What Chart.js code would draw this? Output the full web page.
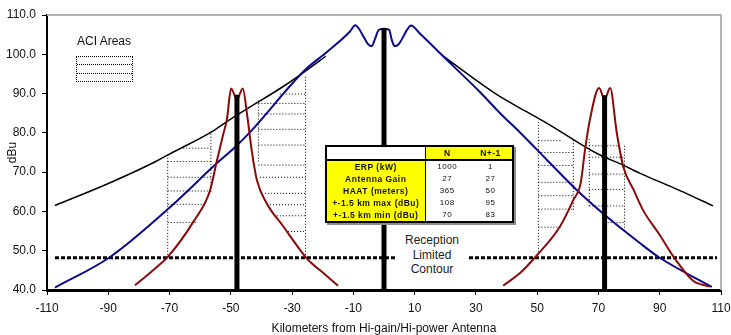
<!DOCTYPE html>
<html>
<head>
<meta charset="utf-8">
<script src="https://cdn.jsdelivr.net/npm/chart.js@4.4.1/dist/chart.umd.min.js"></script>
<style>
  body { margin: 0; background: #fff; }
  #wrap { position: relative; width: 731px; height: 335px; font-family: "Liberation Sans", Arial, sans-serif; color: #111; }
  #fieldChart { position: absolute; left: 0; top: 0; }
  #aciLabel { position: absolute; left: 77px; top: 34px; font-size: 12px; line-height: 15px; }
  #aciKey { position: absolute; left: 76px; top: 56px; width: 55px; height: 24px; border: 1px dotted #000; }
  #aciKey div { position: absolute; left: 0; width: 55px; border-top: 1px dotted #000; }
  #siteTable { position: absolute; left: 325px; top: 145px; width: 187px; border-collapse: collapse; table-layout: fixed;
    background: #fff; border: 2px solid #000; box-shadow: 2px 2px 0 #8c8c8c; }
  #siteTable td { padding: 0; text-align: center; height: 12px; line-height: 12px; font-size: 8px; letter-spacing: 0.5px; }
  #siteTable td.label { background: #ffff00; font-weight: bold; font-size: 8.5px; letter-spacing: 0.5px; border-right: 1px solid #000; white-space: nowrap; }
  #siteTable tr.head td { height: 12px; background: #ffff00; font-weight: bold; font-size: 8.5px; border-bottom: 2px solid #000; }
  #siteTable tr.head td.blank { background: #fff; border-right: 1px solid #000; }
  #contourLabel { position: absolute; left: 397px; top: 233px; width: 70px; height: 44px; background: #fff;
    text-align: center; font-size: 12px; line-height: 14.5px; color: #222; }
</style>
</head>
<body>
<div id="wrap">
  <canvas id="fieldChart" width="731" height="335"></canvas>
  <div id="aciLabel">ACI Areas</div>
  <div id="aciKey"><div style="top:6.5px"></div><div style="top:16px"></div></div>
  <table id="siteTable"></table>
  <div id="contourLabel">Reception<br>Limited<br>Contour</div>
</div>
<script>
const xTicks = [-110, -90, -70, -50, -30, -10, 10, 30, 50, 70, 90, 110];
const yTicks = [40, 50, 60, 70, 80, 90, 100, 110];

// hi-power station (blue), with the pattern dip near the mast
const mainKm = [-107.4, -89.4, -70.5, -54.5, -49, -43.7, -25.8, -18.6, -11.1, -9.4, -8, -6.7, -5.1, -4, -2.9, -1.9, -1, 0,
  1, 1.7, 2.5, 3.4, 4.7, 6.3, 7.5, 8.8, 11.7, 18.9, 31.3, 37.9, 44.4, 53.2, 62.3, 71.6, 83.6, 90, 107];
const mainDbu = [40.6, 48.4, 60.6, 72.3, 76.1, 80.2, 96, 100.6, 105.8, 107.4, 106.3, 104.5, 102.5, 102.1, 104, 106, 106.4, 106.5,
  106.4, 106.2, 103.8, 102.1, 102.5, 104.5, 106.2, 107.3, 105.3, 99.8, 90.4, 85, 80.1, 73.1, 65.9, 59.4, 51.9, 48.2, 40.8];

// reference curve (thin black)
const refWestKm = [-107.4, -89.4, -74.5, -70.5, -56, -51.4, -47, -43.7, -32.9, -25.5, -19];
const refWestDbu = [61.5, 67.3, 72.7, 74.4, 80.4, 82.8, 85, 86.6, 91.8, 95.8, 99.5];
const refEastKm = [18.9, 31.3, 37.9, 44.4, 53.1, 69.4, 78, 83.6, 96.6, 107.4];
const refEastDbu = [99.8, 92.7, 89.2, 86.3, 82.5, 74.8, 71.8, 69.7, 65.3, 61.4];

// low-power stations (dark red)
const lowWestKm = [-81.3, -74.7, -70.5, -62.2, -56.8, -54.6, -52.4, -51.3, -49.9, -48, -46.1, -44.6, -43.2, -41.5,
  -38.3, -32.8, -27.4, -24.8, -19.8, -15];
const lowWestDbu = [41.2, 45.5, 48.5, 57.4, 65.3, 72.7, 79.9, 83.3, 91.3, 88.5, 91.3, 84.1, 75.6, 68, 62.1, 56.1, 50.2,
  47.7, 44.3, 41.1];
const lowEastKm = [38.9, 44.4, 49.4, 57.4, 61.8, 64.2, 65.6, 67.2, 70.2, 72, 73.8, 76, 78.1, 81.4, 84.5, 90, 95, 101, 106.4];
const lowEastDbu = [41.1, 44.3, 48.4, 56.1, 62.9, 67.2, 75.6, 83.3, 91.4, 88.5, 91.4, 79.9, 71.4, 65.6, 60.4, 54, 47.9, 42.3, 40.9];

// antenna masts
const mastKm = [-48, 0, 72];
const mastTopDbu = [89.7, 106.7, 89.6];

// reception limited contour
const contourKm = [-107.4, 108.7];
const contourDbu = 48.2;

// ACI hatch: rows [dBu, fromKm, toKm], cols [km, fromDbu, toDbu]
const aciRows = [
  [76.1, -66.5, -56.5], [72.7, -70.6, -56.5], [68.7, -70.6, -56.5], [65.2, -70.6, -56.5], [61.8, -70.6, -58.4], [57.2, -70.6, -61.4],
  [89.9, -34, -25.6], [87.5, -41, -25.6], [84.8, -41, -25.6], [80.9, -41, -25.6], [76.9, -41, -25.6], [71.8, -41, -25.6],
  [68.7, -40.5, -25.6], [64.6, -38.8, -25.6], [61.7, -37.2, -25.6], [58.9, -35, -25.6], [54.9, -31.3, -25.6],
  [78, 50.4, 58], [75, 50.4, 61.8], [71.7, 50.4, 61.8], [67.4, 50.4, 61.8], [64, 50.4, 61.8], [60.6, 50.4, 61.8], [56, 50.4, 58],
  [76.7, 67, 77], [73.8, 67, 78.5], [69.5, 67, 78.5], [65.6, 67, 78.5], [61.4, 67, 78.5], [57.2, 73, 78.5]
];
const aciCols = [
  [-70.6, 48.2, 74.4], [-56.5, 65, 80.3],
  [-41, 72.7, 88.4], [-25.6, 48.2, 94.3],
  [50.4, 48.2, 83.3], [61.8, 60.4, 78.4],
  [67, 61.4, 78.4], [78.5, 55.1, 76.9]
];

const tableHead = ["N", "N+-1"];
const tableLabels = ["ERP (kW)", "Antenna Gain", "HAAT (meters)", "+-1.5 km max (dBu)", "+-1.5 km min (dBu)"];
const tableN = [1000, 27, 365, 108, 70];
const tableN1 = [1, 27, 50, 95, 83];

function buildTable() {
    const table = document.getElementById("siteTable");
    let html = `<colgroup><col style="width:99px"><col style="width:44px"><col style="width:44px"></colgroup>`;
    html += `<tr class="head"><td class="blank"></td><td>${tableHead[0]}</td><td>${tableHead[1]}</td></tr>`;
    tableLabels.forEach((label, i) => {
        html += `<tr><td class="label">${label}</td><td>${tableN[i]}</td><td>${tableN1[i]}</td></tr>`;
    });
    table.innerHTML = html;
}

function points(xs, ys) {
    return xs.map((x, i) => ({ x, y: ys[i] }));
}

function segmentPoints(rows, cols) {
    const out = [];
    rows.forEach(([y, x1, x2]) => out.push({ x: x1, y }, { x: x2, y }, { x: x2, y: null }));
    cols.forEach(([x, y1, y2]) => out.push({ x, y: y1 }, { x, y: y2 }, { x, y: null }));
    return out;
}

function mastPoints() {
    const out = [];
    mastKm.forEach((x, i) => out.push({ x, y: 40 }, { x, y: mastTopDbu[i] }, { x, y: null }));
    return out;
}

const framePlugin = {
    id: "frame",
    beforeDatasetsDraw(chart) {
        const { ctx, chartArea } = chart;
        ctx.save();
        ctx.strokeStyle = "#b4b4b4";
        ctx.lineWidth = 2;
        ctx.beginPath();
        ctx.moveTo(chartArea.left, chartArea.top);
        ctx.lineTo(chartArea.right, chartArea.top);
        ctx.lineTo(chartArea.right, chartArea.bottom);
        ctx.stroke();
        ctx.restore();
    }
};

function curve(data, color, width) {
    return {
        data,
        showLine: true,
        borderColor: color,
        borderWidth: width,
        pointRadius: 0,
        cubicInterpolationMode: "monotone",
        fill: false
    };
}

Chart.defaults.font.family = '"Liberation Sans", Arial, sans-serif';
Chart.defaults.color = "#111";

buildTable();

new Chart(document.getElementById("fieldChart").getContext("2d"), {
    type: "scatter",
    data: {
        datasets: [
            { data: mastPoints(), showLine: true, borderColor: "#000", borderWidth: 5, pointRadius: 0, borderCapStyle: "butt" },
            curve(points(lowWestKm, lowWestDbu), "#8b0a0a", 2),
            curve(points(lowEastKm, lowEastDbu), "#8b0a0a", 2),
            curve(points(mainKm, mainDbu), "#0a0a8c", 2),
            curve(points(refWestKm, refWestDbu), "#000", 1.5),
            curve(points(refEastKm, refEastDbu), "#000", 1.5),
            { data: segmentPoints(aciRows, aciCols), showLine: true, borderColor: "#000", borderWidth: 1, borderDash: [1, 2], pointRadius: 0 },
            { data: points(contourKm, [contourDbu, contourDbu]), showLine: true, borderColor: "#000", borderWidth: 3, borderDash: [4, 2], pointRadius: 0 }
        ]
    },
    options: {
        responsive: false,
        animation: false,
        devicePixelRatio: 1,
        layout: { padding: { top: 15, right: 10, left: 0, bottom: 0 } },
        plugins: { legend: { display: false }, tooltip: { enabled: false } },
        scales: {
            x: {
                type: "linear",
                min: -110,
                max: 110,
                afterBuildTicks(scale) { scale.ticks = xTicks.map((value) => ({ value })); },
                afterFit(scale) { scale.height = 45; scale.paddingLeft = 0; scale.paddingRight = 0; },
                grid: { drawOnChartArea: false, drawTicks: true, tickLength: 5, color: "#000" },
                border: { color: "#000", width: 3 },
                ticks: { font: { size: 12 }, padding: 6, maxRotation: 0, autoSkip: false },
                title: { display: true, text: "Kilometers from Hi-gain/Hi-power Antenna", font: { size: 12 }, padding: { top: 0, bottom: -1 } }
            },
            y: {
                min: 40,
                max: 110,
                afterBuildTicks(scale) { scale.ticks = yTicks.map((value) => ({ value })); },
                afterFit(scale) { scale.width = 47; scale.paddingTop = 0; scale.paddingBottom = 0; },
                grid: { drawOnChartArea: false, drawTicks: true, tickLength: 5, color: "#000" },
                border: { color: "#000", width: 2 },
                ticks: { font: { size: 12 }, padding: 6, callback: (value) => value.toFixed(1) },
                title: { display: true, text: "dBu", font: { size: 12 }, padding: { top: 5, bottom: 0 } }
            }
        }
    },
    plugins: [framePlugin]
});
</script>
</body>
</html>
